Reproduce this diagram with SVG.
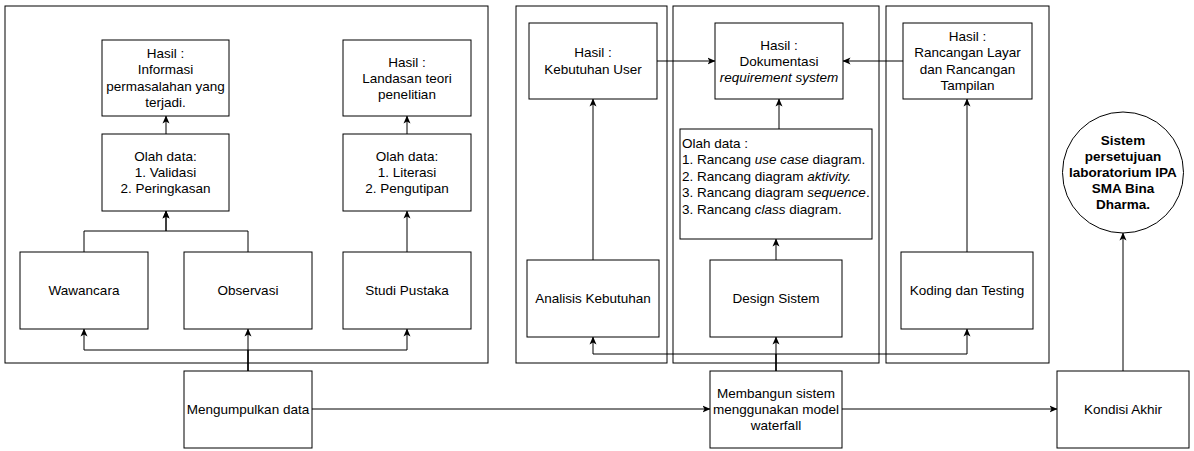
<svg xmlns="http://www.w3.org/2000/svg" width="1194" height="451" viewBox="0 0 1194 451">
<defs>
<marker id="arr" viewBox="0 0 8 8" refX="7.5" refY="4" markerWidth="8" markerHeight="8" markerUnits="userSpaceOnUse" orient="auto">
<path d="M0,0.5 L8,4 L0,7.5 L2,4 Z" fill="#000"/>
</marker>
</defs>
<style>
.c{fill:#fff;stroke:#000;stroke-width:1}
.b{fill:#fff;stroke:#000;stroke-width:1}
.t{font-family:"Liberation Sans",Arial,sans-serif;font-size:13.5px;fill:#000;text-anchor:middle}
.l{font-family:"Liberation Sans",Arial,sans-serif;font-size:13.5px;fill:#000}
.bd{font-weight:bold}
.e{fill:none;stroke:#000;stroke-width:1}
.a{marker-end:url(#arr)}
</style>
<rect width="1194" height="451" fill="#fff"/>
<g id="containers">
<rect class="c" x="5" y="6" width="483" height="357"/>
<rect class="c" x="516" y="6" width="151" height="357"/>
<rect class="c" x="673" y="6" width="206" height="357"/>
<rect class="c" x="886" y="6" width="163" height="357"/>
</g>
<g id="connectors">
<path class="e a" d="M166,134 V116"/>
<path class="e a" d="M84,252 V231 H166 V211"/>
<path class="e a" d="M248,252 V231 H166 V211"/>
<path class="e a" d="M407,134 V116"/>
<path class="e a" d="M407,252 V211"/>
<path class="e a" d="M248,371 V350 H84 V329"/>
<path class="e a" d="M248,371 V329"/>
<path class="e a" d="M248,371 V350 H407 V329"/>
<path class="e a" d="M312,409 H710"/>
<path class="e a" d="M593,260 V99"/>
<path class="e a" d="M657,61 H715"/>
<path class="e a" d="M903,61 H843"/>
<path class="e a" d="M779,129 V99"/>
<path class="e a" d="M776,260 V239"/>
<path class="e a" d="M776,371 V337"/>
<path class="e a" d="M776,371 V354 H593 V337"/>
<path class="e a" d="M776,371 V354 H967 V329"/>
<path class="e a" d="M967,252 V99"/>
<path class="e a" d="M842,409 H1057"/>
<path class="e a" d="M1123,371 V233"/>
</g>
<g id="hasil-informasi">
<rect class="b" x="102" y="40" width="127" height="76"/>
<text class="t" x="165.5" y="58">Hasil :</text>
<text class="t" x="165.5" y="74">Informasi</text>
<text class="t" x="165.5" y="91">permasalahan yang</text>
<text class="t" x="165.5" y="107">terjadi.</text>
</g>
<g id="olah-data-1">
<rect class="b" x="102" y="134" width="127" height="77"/>
<text class="t" x="165.5" y="161">Olah data:</text>
<text class="t" x="165.5" y="177">1. Validasi</text>
<text class="t" x="165.5" y="193">2. Peringkasan</text>
</g>
<g id="hasil-landasan">
<rect class="b" x="343" y="40" width="128" height="76"/>
<text class="t" x="407" y="67">Hasil :</text>
<text class="t" x="407" y="83">Landasan teori</text>
<text class="t" x="407" y="99">penelitian</text>
</g>
<g id="olah-data-2">
<rect class="b" x="343" y="134" width="128" height="77"/>
<text class="t" x="407" y="161">Olah data:</text>
<text class="t" x="407" y="177">1. Literasi</text>
<text class="t" x="407" y="193">2. Pengutipan</text>
</g>
<g id="wawancara">
<rect class="b" x="20" y="252" width="128" height="77"/>
<text class="t" x="84" y="295">Wawancara</text>
</g>
<g id="observasi">
<rect class="b" x="184" y="252" width="128" height="77"/>
<text class="t" x="248" y="295">Observasi</text>
</g>
<g id="studi-pustaka">
<rect class="b" x="343" y="252" width="128" height="77"/>
<text class="t" x="407" y="295">Studi Pustaka</text>
</g>
<g id="mengumpulkan-data">
<rect class="b" x="184" y="371" width="128" height="77"/>
<text class="t" x="248" y="414">Mengumpulkan data</text>
</g>
<g id="hasil-kebutuhan">
<rect class="b" x="529" y="23" width="128" height="76"/>
<text class="t" x="593" y="57">Hasil :</text>
<text class="t" x="593" y="74">Kebutuhan User</text>
</g>
<g id="analisis-kebutuhan">
<rect class="b" x="527" y="260" width="132" height="77"/>
<text class="t" x="593" y="303">Analisis Kebutuhan</text>
</g>
<g id="hasil-dokumentasi">
<rect class="b" x="715" y="23" width="128" height="76"/>
<text class="t" x="779" y="50">Hasil :</text>
<text class="t" x="779" y="66">Dokumentasi</text>
<text class="t" x="779" y="82" font-style="italic">requirement system</text>
</g>
<g id="olah-data-3">
<rect class="b" x="680" y="129" width="192" height="110"/>
<text class="l" x="682" y="148">Olah data :</text>
<text class="l" x="682" y="164">1. Rancang <tspan font-style="italic">use case</tspan> diagram.</text>
<text class="l" x="682" y="181">2. Rancang diagram <tspan font-style="italic">aktivity.</tspan></text>
<text class="l" x="682" y="197">3. Rancang diagram <tspan font-style="italic">sequence</tspan>.</text>
<text class="l" x="682" y="214">3. Rancang <tspan font-style="italic">class</tspan> diagram.</text>
</g>
<g id="design-sistem">
<rect class="b" x="710" y="260" width="132" height="77"/>
<text class="t" x="776" y="303">Design Sistem</text>
</g>
<g id="membangun-sistem">
<rect class="b" x="710" y="371" width="132" height="77"/>
<text class="t" x="776" y="398">Membangun sistem</text>
<text class="t" x="776" y="414">menggunakan model</text>
<text class="t" x="776" y="430">waterfall</text>
</g>
<g id="hasil-rancangan">
<rect class="b" x="903" y="23" width="129" height="76"/>
<text class="t" x="967.5" y="41">Hasil :</text>
<text class="t" x="967.5" y="57">Rancangan Layar</text>
<text class="t" x="967.5" y="74">dan Rancangan</text>
<text class="t" x="967.5" y="90">Tampilan</text>
</g>
<g id="koding-testing">
<rect class="b" x="901" y="252" width="132" height="77"/>
<text class="t" x="967" y="295">Koding dan Testing</text>
</g>
<g id="kondisi-akhir">
<rect class="b" x="1057" y="371" width="132" height="77"/>
<text class="t" x="1123" y="414">Kondisi Akhir</text>
</g>
<g id="sistem-persetujuan">
<circle class="b" cx="1123" cy="172.5" r="60.5"/>
<text class="t bd" x="1123" y="145">Sistem</text>
<text class="t bd" x="1123" y="161">persetujuan</text>
<text class="t bd" x="1123" y="177">laboratorium IPA</text>
<text class="t bd" x="1123" y="193">SMA Bina</text>
<text class="t bd" x="1123" y="209">Dharma.</text>
</g>
</svg>
